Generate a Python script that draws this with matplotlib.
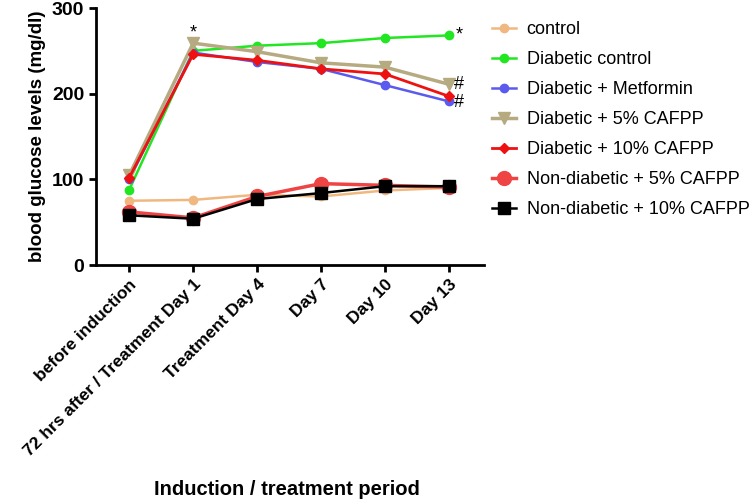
import numpy as np
import matplotlib.pyplot as plt

periods = ['before induction', '72 hrs after / Treatment Day 1', 'Treatment Day 4',
           'Day 7', 'Day 10', 'Day 13']

control = [75, 76, 82, 80, 87, 90]
diab_control = [88, 250, 256, 259, 265, 268]
metformin = [100, 248, 237, 229, 210, 191]
cafpp5 = [105, 259, 249, 236, 231, 211]
cafpp10 = [102, 246, 239, 229, 223, 197]
nondiab5 = [62, 55, 80, 95, 93, 91]
nondiab10 = [58, 54, 77, 84, 92, 92]

plt.rcParams['font.family'] = ['Liberation Sans', 'DejaVu Sans']

fig = plt.figure(figsize=(7.52, 5.04), dpi=100)
ax = fig.add_axes([0.1277, 0.4742, 0.5159, 0.5099])

x = np.arange(len(periods))

ax.plot(x, control, color='#f0b880', marker='o', ms=6, lw=1.8, label='control')
ax.plot(x, diab_control, color='#22e622', marker='o', ms=6, lw=1.8, label='Diabetic control')
ax.plot(x, metformin, color='#5a5aee', marker='o', ms=6, lw=1.8, label='Diabetic + Metformin')
ax.plot(x, cafpp5, color='#b5aa80', marker='v', ms=8, lw=2.5, label='Diabetic + 5% CAFPP')
ax.plot(x, cafpp10, color='#ee1111', marker='D', ms=5, lw=2, label='Diabetic + 10% CAFPP')
ax.plot(x, nondiab5, color='#ee4444', marker='o', ms=10, lw=2.5, mfc='#ee4444',
        label='Non-diabetic + 5% CAFPP')
ax.plot(x, nondiab10, color='black', marker='s', ms=8, lw=1.8, label='Non-diabetic + 10% CAFPP')

# significance marks
ax.text(1, cafpp5[1] + 2, '*', fontsize=13, ha='center', va='bottom')
ax.text(5.1, diab_control[5], '*', fontsize=13, ha='left', va='center')
ax.text(5.08, cafpp5[5], '#', fontsize=13, ha='left', va='center')
ax.text(5.08, metformin[5] - 1, '#', fontsize=13, ha='left', va='center')

ax.set_xlim(-0.52, 5.55)
ax.set_ylim(0, 300)
ax.set_yticks([0, 100, 200, 300])
ax.set_xticks(x)
ax.set_xticklabels(periods, rotation=45, ha='right', rotation_mode='anchor',
                   fontsize=12.5, fontweight='bold')
for lab in ax.get_yticklabels():
    lab.set_fontweight('bold')
    lab.set_fontsize(14)

ax.spines['top'].set_visible(False)
ax.spines['right'].set_visible(False)
ax.spines['left'].set_linewidth(2)
ax.spines['bottom'].set_linewidth(2)
ax.tick_params(width=2, length=5)

ax.set_ylabel('blood glucose levels (mg/dl)', fontsize=13.5, fontweight='bold', labelpad=4)
fig.text(0.382, 0.018, 'Induction / treatment period', fontsize=14.5, fontweight='bold', ha='center')

ax.legend(loc='upper left', bbox_to_anchor=(1.003, 0.978), frameon=False, fontsize=13,
          labelspacing=0.72, handlelength=1.3, handletextpad=0.6, borderaxespad=0)

fig.savefig('out.png', dpi=100)
